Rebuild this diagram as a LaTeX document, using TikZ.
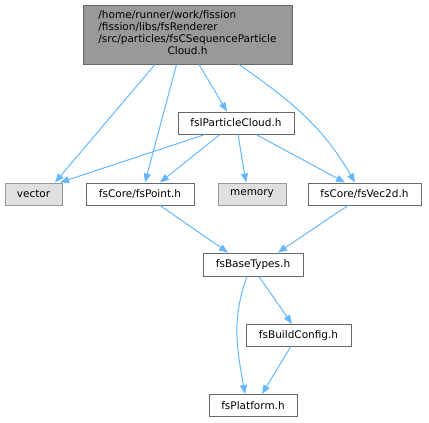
\documentclass[tikz,border=0pt]{standalone}
\usepackage{fontspec}
\setmainfont{DejaVu Sans}
\usepackage{tikz}
\usetikzlibrary{arrows.meta,positioning}
\definecolor{edgeblue}{HTML}{63B8FF}
\definecolor{rootgray}{HTML}{999999}
\definecolor{sysgray}{HTML}{E0E0E0}
\definecolor{bordergray}{HTML}{666666}
\tikzset{
    %Define standard arrow tip
    >={Triangle[length=9pt,width=7pt]},
    %Define style for boxes
    filebox/.style={
           rectangle,
           draw=bordergray, line width=1pt,
           fill=white,
           minimum height=22pt,
           inner xsep=2pt,
           font=\fontsize{10.5}{12}\selectfont,
           text centered},
    rootbox/.style={
           filebox,
           fill=rootgray,
           minimum width=209pt,
           minimum height=59pt},
    sysbox/.style={
           filebox,
           draw=rootgray,
           fill=sysgray},
    % Define arrow style
    dep/.style={
           ->,
           draw=edgeblue,
           line width=1pt}
}

\begin{document}
\begin{tikzpicture}[x=1pt,y=1pt,every edge/.style={dep}]
\useasboundingbox (0,0) rectangle (429,-423);
 %nodes
\node[rootbox](root) at (187.5,-34.5){\begin{tabular}{@{}l@{}}/home/runner/work/fission\\/fission/libs/fsRenderer\\/src/particles/fsCSequenceParticle\\\multicolumn{1}{@{}c@{}}{Cloud.h}\end{tabular}};
\node[filebox, minimum width=116pt](cloud) at (236,-123){fsIParticleCloud.h};
\node[sysbox, minimum width=57pt](vector) at (33.5,-194){vector};
\node[filebox, minimum width=108pt](point) at (140,-194){fsCore/fsPoint.h};
\node[sysbox, minimum width=68pt](memory) at (252,-194){memory};
\node[filebox, minimum width=113pt](vec2d) at (364.5,-194){fsCore/fsVec2d.h};
\node[filebox, minimum width=100pt, minimum height=23pt](basetypes) at (253,-264.5){fsBaseTypes.h};
\node[filebox, minimum width=105pt](buildconfig) at (298.5,-335.5){fsBuildConfig.h};
\node[filebox, minimum width=88pt](platform) at (253,-405.5){fsPlatform.h};
 %edges
\path
    ([xshift=-32.5pt]root.south) edge ([xshift=21.5pt]vector.north)
    ([xshift=-11pt]root.south) edge ([xshift=5pt]point.north)
    ([xshift=11.5pt]root.south) edge ([xshift=-9pt]cloud.north)
    ([xshift=51.5pt]root.south) edge[out=-35,in=120] ([xshift=-9.5pt]vec2d.north)
    ([xshift=-31pt]cloud.south) edge ([xshift=26.5pt]vector.north)
    ([xshift=-16pt]cloud.south) edge ([xshift=20pt]point.north)
    ([xshift=2pt]cloud.south) edge ([xshift=-6pt]memory.north)
    ([xshift=20pt]cloud.south) edge ([xshift=-19.5pt]vec2d.north)
    ([xshift=20pt]point.south) edge ([xshift=-25pt]basetypes.north)
    ([xshift=-16.5pt]vec2d.south) edge ([xshift=25pt]basetypes.north)
    ([xshift=6pt]basetypes.south) edge ([xshift=-6.5pt]buildconfig.north)
    ([xshift=-6pt]basetypes.south) edge[out=-110,in=100] ([xshift=-8pt]platform.north)
    ([xshift=-8pt]buildconfig.south) edge ([xshift=9pt]platform.north);
\end{tikzpicture}
\end{document}
